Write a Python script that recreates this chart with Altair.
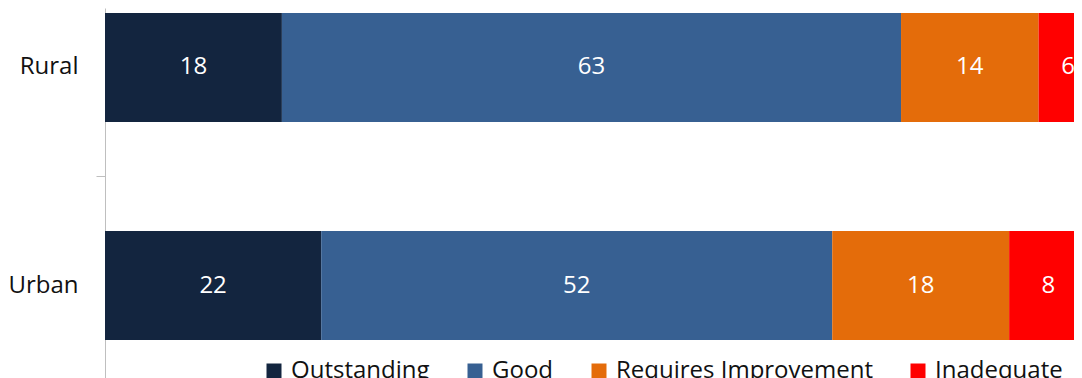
import altair as alt
import pandas as pd

categories = ["Rural", "Urban"]
ratings = ["Outstanding", "Good", "Requires Improvement", "Inadequate"]
rural_values = [18, 63, 14, 6]
urban_values = [22, 52, 18, 8]
colors = ["#13253F", "#376092", "#E46C0A", "#FF0000"]

rows = []
for cat, vals in zip(categories, [rural_values, urban_values]):
    for i, (r, v) in enumerate(zip(ratings, vals)):
        rows.append({"area": cat, "rating": r, "order": i, "value": v})
df = pd.DataFrame(rows)

FONT = "Open Sans"
FS = 24

base = alt.Chart(df).transform_stack(
    stack="value", groupby=["area"], as_=["x0", "x1"],
    sort=[alt.SortField("order", order="ascending")]
).transform_calculate(mid="(datum.x0 + datum.x1) / 2")

xscale = alt.Scale(domain=[0, 98.6], nice=False, zero=True)


def yscale():
    return alt.Scale(type="band", domain=categories, paddingInner=0.5,
                     paddingOuter=0.1353, align=0.0847)


bars = base.mark_bar(clip=True).encode(
    x=alt.X("x0:Q", scale=xscale, axis=None),
    x2="x1:Q",
    y=alt.Y("area:N", scale=yscale(),
            axis=alt.Axis(title=None, orient="left", ticks=False,
                          domainColor="#BFBFBF", labelFont=FONT, labelFontSize=FS,
                          labelColor="#111111", labelPadding=27, grid=False)),
    color=alt.Color("rating:N", scale=alt.Scale(domain=ratings, range=colors),
                    legend=alt.Legend(title=None, orient="none", legendX=157, legendY=351,
                                      direction="horizontal", symbolType="square",
                                      symbolSize=225, symbolStrokeWidth=0,
                                      labelFont=FONT, labelFontSize=FS, labelColor="#111111",
                                      columnPadding=33, labelOffset=5, labelLimit=0)),
    order=alt.Order("order:Q"),
)

labels = base.mark_text(color="white", font=FONT, fontSize=FS).encode(
    x=alt.X("mid:Q", scale=xscale, axis=None),
    y=alt.Y("area:N", scale=yscale(),
            axis=alt.Axis(title=None, orient="left", labels=False, domain=False,
                          ticks=True, tickSize=9, tickColor="#BFBFBF",
                          tickOffset=109, grid=False)),
    text="value:Q",
)

chart = alt.layer(bars, labels).resolve_scale(y="independent").properties(
    width=969, height=386,
    autosize=alt.AutoSizeParams(type="none"),
    padding={"left": 97, "top": 0, "right": 0, "bottom": 0},
).configure_view(stroke=None)

chart.save("out.html", embed_options={"renderer": "svg", "actions": False})
